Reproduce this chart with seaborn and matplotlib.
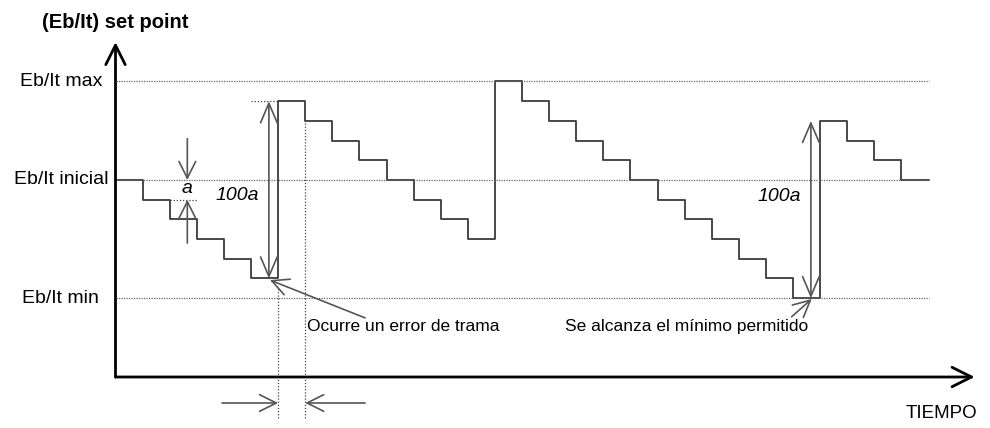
import numpy as np
import pandas as pd
import matplotlib
matplotlib.use("Agg")
import matplotlib.pyplot as plt
import seaborn as sns

# set point staircase: one value per time slot (steps-post), in units of "a"
step_times = list(range(31))
step_levels = [0, -1, -2, -3, -4, -5, 4, 3, 2, 1, 0, -1, -2, -3,
               5, 4, 3, 2, 1, 0, -1, -2, -3, -4, -5, -6, 3, 2, 1, 0, 0]

ref_names = ["Eb/It max", "Eb/It inicial", "Eb/It min"]
ref_levels = [5, 0, -6]

sns.set_style("white")
plt.rcParams["font.family"] = ["Liberation Sans", "DejaVu Sans"]
plt.rcParams["text.color"] = "black"

fig = plt.figure(figsize=(9.9, 4.28), dpi=100)
ax = fig.add_axes([0, 0, 1, 1])
ax.set_axis_off()

# map the drawing area so 1 time slot ~27px and 1 step ~20px
ax.set_xlim(-4.262, 32.269)
ax.set_ylim(-12.589, 9.137)

df = pd.DataFrame({"t": step_times, "level": step_levels})
sns.lineplot(data=df, x="t", y="level", drawstyle="steps-post",
             color="#3a3a3a", linewidth=1.3, ax=ax, legend=False)

# reference levels
ax.hlines(ref_levels, 0, 30, colors="#666666", linestyles=(0, (1, 1)), linewidth=0.9)
for name, lev in zip(ref_names, ref_levels):
    ax.text(-2.02, lev, name, ha="center", va="center", fontsize=14)

# axes with arrows
axis_y = -10
ax.annotate("", xy=(31.7, axis_y), xytext=(0, axis_y),
            arrowprops=dict(arrowstyle="->,head_length=0.7,head_width=0.35",
                            color="black", lw=2, mutation_scale=20, shrinkA=0, shrinkB=0))
ax.annotate("", xy=(0, 7.0), xytext=(0, axis_y),
            arrowprops=dict(arrowstyle="->,head_length=0.7,head_width=0.35",
                            color="black", lw=2, mutation_scale=20, shrinkA=0, shrinkB=0))
ax.text(0, 8.0, "(Eb/It) set point", ha="center", va="center",
        fontsize=14.5, fontweight="bold")
ax.text(30.46, -11.83, "TIEMPO", ha="center", va="center", fontsize=13.5)

# dotted guides
ax.vlines(6, -12.08, -5.5, colors="#444444", linestyles=(0, (1, 1.5)), linewidth=0.9)
ax.vlines(7, -12.08, 3, colors="#444444", linestyles=(0, (1, 1.5)), linewidth=0.9)
ax.hlines(4, 5.0, 6, colors="#444444", linestyles=(0, (1, 1.5)), linewidth=0.9)
ax.hlines(-1, 2, 3.03, colors="#444444", linestyles=(0, (1, 1.5)), linewidth=0.9)

gray_arrow = dict(color="#555555", lw=1.2, mutation_scale=20, shrinkA=0, shrinkB=0)

# step size "a"
ax.annotate("", xy=(2.65, 0), xytext=(2.65, 2.1),
            arrowprops=dict(arrowstyle="->,head_length=0.6,head_width=0.3", **gray_arrow))
ax.annotate("", xy=(2.65, -1), xytext=(2.65, -3.2),
            arrowprops=dict(arrowstyle="->,head_length=0.6,head_width=0.3", **gray_arrow))
ax.text(2.62, -0.45, "a", ha="center", va="center", fontsize=14, style="italic")

# 100a jumps
ax.annotate("", xy=(5.66, 4), xytext=(5.66, -5),
            arrowprops=dict(arrowstyle="<->,head_length=0.7,head_width=0.3", **gray_arrow))
ax.text(4.48, -0.8, "100a", ha="center", va="center", fontsize=14, style="italic")
ax.annotate("", xy=(25.66, 3), xytext=(25.66, -6),
            arrowprops=dict(arrowstyle="<->,head_length=0.7,head_width=0.3", **gray_arrow))
ax.text(24.48, -0.85, "100a", ha="center", va="center", fontsize=14, style="italic")

# callouts
ax.annotate("", xy=(5.70, -5.08), xytext=(9.21, -7.0),
            arrowprops=dict(arrowstyle="->,head_length=0.6,head_width=0.3", **gray_arrow))
ax.text(7.05, -7.45, "Ocurre un error de trama", ha="left", va="center", fontsize=12.5)
ax.annotate("", xy=(25.69, -6.04), xytext=(24.95, -6.94),
            arrowprops=dict(arrowstyle="->,head_length=0.6,head_width=0.3", **gray_arrow))
ax.text(16.6, -7.45, "Se alcanza el mínimo permitido", ha="left", va="center", fontsize=12.5)

# frame-error interval marks below the time axis
ax.annotate("", xy=(6.0, -11.32), xytext=(3.93, -11.32),
            arrowprops=dict(arrowstyle="->,head_length=0.6,head_width=0.3", **gray_arrow))
ax.annotate("", xy=(7.0, -11.32), xytext=(9.21, -11.32),
            arrowprops=dict(arrowstyle="->,head_length=0.6,head_width=0.3", **gray_arrow))

fig.savefig("out.png", dpi=100)
